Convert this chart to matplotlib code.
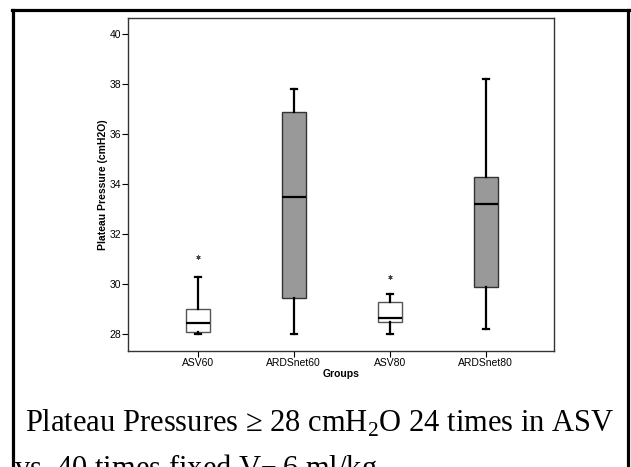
import numpy as np
import matplotlib.pyplot as plt
from matplotlib.lines import Line2D

# values
groups = ['ASV60', 'ARDSnet60', 'ASV80', 'ARDSnet80']
whis_lo = [28.0, 28.0, 28.0, 28.2]
q1 = [28.1, 29.45, 28.5, 29.9]
med = [28.47, 33.5, 28.66, 33.2]
q3 = [29.02, 36.9, 29.31, 34.3]
whis_hi = [30.3, 37.8, 29.6, 38.2]
outliers = [[31.08], [], [30.28], []]
face = ['white', '#999999', 'white', '#999999']

plt.rcParams['font.family'] = ['Liberation Sans', 'DejaVu Sans']
plt.rcParams['mathtext.fontset'] = 'custom'
plt.rcParams['mathtext.rm'] = 'Liberation Serif'

fig = plt.figure(figsize=(6.31, 4.67), dpi=100)
ax = fig.add_axes([128/631, 1-351/467, 426/631, 333/467])

stats = []
for i in range(len(groups)):
    stats.append(dict(med=med[i], q1=q1[i], q3=q3[i], whislo=whis_lo[i],
                      whishi=whis_hi[i], fliers=outliers[i], label=groups[i]))

pos = np.arange(1, len(groups)+1)
bp = ax.bxp(stats, positions=pos, widths=0.25, patch_artist=True,
            capwidths=0.065,
            boxprops=dict(linewidth=1.0),
            whiskerprops=dict(color='black', linewidth=1.6),
            capprops=dict(color='black', linewidth=1.6),
            medianprops=dict(color='black', linewidth=1.6),
            flierprops=dict(marker=(6, 2, 0), markersize=3, markeredgewidth=0.6,
                            markeredgecolor='#444444', linestyle='none'))
for b, c in zip(bp['boxes'], face):
    b.set_facecolor(c)
    b.set_edgecolor('#555555' if c == 'white' else '#333333')

ax.set_xlim(0.274, 4.71)
ax.set_ylim(27.34, 40.66)
ax.set_yticks([28, 30, 32, 34, 36, 38, 40])
ax.set_xticks(pos)
ax.set_xticklabels(groups)
ax.tick_params(labelsize=7.5, length=4, width=0.8, pad=1, colors='black')
for s in ax.spines.values():
    s.set_linewidth(1.0)
    s.set_color('#333333')
ax.set_ylabel('Plateau Pressure (cmH2O)', fontsize=7.5, fontweight='bold', labelpad=1)
ax.set_xlabel('Groups', fontsize=7.5, fontweight='bold', labelpad=1)

# slide frame
W, H = 631, 467
lw = 2.3
fig.add_artist(Line2D([12/W, 629/W], [1-10/H, 1-10/H], color='black', lw=lw))
fig.add_artist(Line2D([13/W, 13/W], [0, 1-10/H], color='black', lw=lw))
fig.add_artist(Line2D([628/W, 628/W], [0, 1-10/H], color='black', lw=lw))

fig.text(25/W, 1-432/H, 'Plateau Pressures \u2265 28 cmH$_2$O 24 times in ASV',
         family='Liberation Serif', fontsize=22, ha='left', va='baseline')
fig.text(14/W, 1-477/H, 'vs. 40 times fixed V$_T$ 6 ml/kg',
         family='Liberation Serif', fontsize=22, ha='left', va='baseline')

fig.savefig('out.png', dpi=100)
